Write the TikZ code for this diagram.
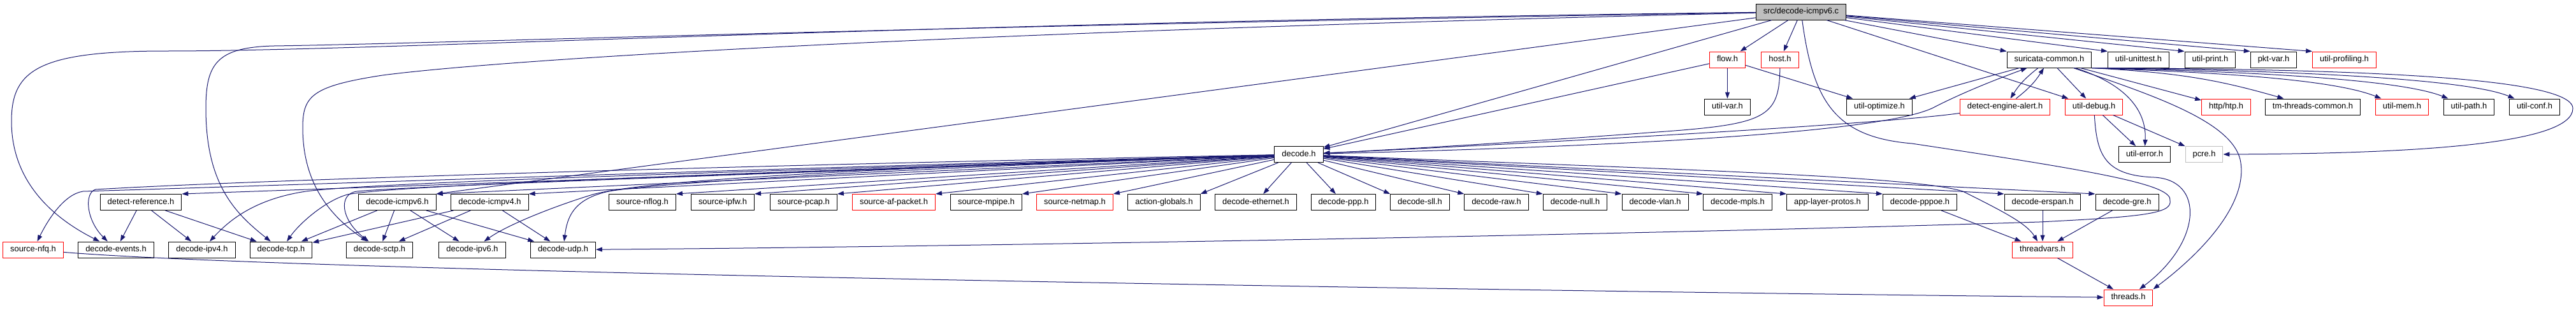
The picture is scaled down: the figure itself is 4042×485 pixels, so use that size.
\documentclass[tikz,border=0pt]{standalone}
\usepackage{fontspec}
\setmainfont{Liberation Sans}
\usetikzlibrary{
		arrows.meta
	}
\definecolor{edgeblue}{HTML}{191970}
\definecolor{srcgray}{HTML}{BFBFBF}
\tikzset{
		>={Triangle[length=10pt,width=7pt]}
	}
\tikzset{
		file/.style={draw=black, fill=white, line width=1pt, inner xsep=11.5pt, inner ysep=0pt, minimum height=25pt, text height=9.3pt, text depth=2.6pt, font=\fontsize{12.9}{15}\selectfont},
		dep/.style={->, draw=edgeblue, fill=none, line width=1pt}
	}

\begin{document}
\begin{tikzpicture}[x=1pt, y=-1pt]
            \fill[white] (0,0) rectangle (4042,485);
            \useasboundingbox (0,0) rectangle (4042,485);

            \node[file, fill=srcgray] (src) at (2826,18.5) {src/decode-icmpv6.c};
            \foreach \n/\x/\c/\t in {flow/2710.5/red/flow.h, host/2793/red/host.h, common/3215.5/black/suricata-common.h, unittest/3355.5/black/util-unittest.h, print/3468/black/util-print.h, pktvar/3567.5/black/pkt-var.h, profiling/3678.5/red/util-profiling.h}
            \node[file, draw=\c] (\n) at (\x,93.5) {\t};
            \foreach \n/\x/\c/\t in {utilvar/2710.5/black/util-var.h, optimize/2949/black/util-optimize.h, alert/3146/red/detect-engine-alert.h, debug/3285.5/red/util-debug.h, tmthreads/3629/black/tm-threads-common.h, mem/3769/red/util-mem.h, utilpath/3874/black/util-path.h, utilconf/3977/black/util-conf.h}
            \node[file, draw=\c] (\n) at (\x,167.5) {\t};
            \node[file, draw=red] (htp) at (3493,167.5) {http/htp.h};
            \node[file] (decode) at (2038,242) {decode.h};
            \node[file] (error) at (3365,242) {util-error.h};
            \node[file, draw=srcgray] (pcre) at (3458.5,242) {pcre.h};
            \foreach \n/\x/\c/\t in {detectref/221/black/detect-reference.h, dicmpv6/623.5/black/decode-icmpv6.h, dicmpv4/768.5/black/decode-icmpv4.h, nflog/1008/black/source-nflog.h, ipfw/1134/black/source-ipfw.h, pcap/1261/black/source-pcap.h, afpacket/1402.5/red/source-af-packet.h, mpipe/1547.5/black/source-mpipe.h, netmap/1686.5/red/source-netmap.h, actglob/1826.5/black/action-globals.h, deth/1970.5/black/decode-ethernet.h, dppp/2108/black/decode-ppp.h, dsll/2228/black/decode-sll.h, decraw/2348/black/decode-raw.h, decnull/2471.5/black/decode-null.h, dvlan/2597/black/decode-vlan.h, dmpls/2726.5/black/decode-mpls.h, applayer/2867.5/black/app-layer-protos.h, dpppoe/3012.5/black/decode-pppoe.h, derspan/3205/black/decode-erspan.h, dgre/3337.5/black/decode-gre.h}
            \node[file, draw=\c] (\n) at (\x,317) {\t};
            \foreach \n/\x/\c/\t in {nfq/52/red/source-nfq.h, dev/182/black/decode-events.h, dipv4/317/black/decode-ipv4.h, dtcp/441/black/decode-tcp.h, dsctp/595.5/black/decode-sctp.h, dipv6/741/black/decode-ipv6.h, dudp/883.5/black/decode-udp.h, threadvars/3205/red/threadvars.h}
            \node[file, draw=\c] (\n) at (\x,391.5) {\t};
            \node[file, draw=red] (threads) at (3339.5,466.5) {threads.h};

            \draw (src) -- (flow) [dep];
            \draw (src) -- (host) [dep];
            \draw (src) -- (decode) [dep];
            \draw (src) -- (debug) [dep];
            \foreach \t in {common,unittest,print,pktvar,profiling}
            \draw (src) -- (\t.north west) [dep];
            \draw (src) -- (dicmpv6.north east) [dep];
            \draw (src) .. controls (1400,36) and (600,80) .. (260,80) .. controls (60,80) and (18,110) .. (18,190) .. controls (18,290) and (90,345) .. (dev) [dep];
            \draw (src) .. controls (1400,42) and (700,68) .. (430,72) .. controls (340,74) and (323,100) .. (323,170) .. controls (323,290) and (370,335) .. (dtcp) [dep];
            \draw (src) .. controls (1500,50) and (800,92) .. (600,118) .. controls (490,135) and (475,150) .. (475,200) .. controls (475,290) and (520,340) .. (dsctp) [dep];
            \draw (src) .. controls (2845,160) and (2880,215) .. (3000,225) .. controls (3300,270) and (3410,290) .. (3405,315) .. controls (3408,335) and (3360,340) .. (3200,348) .. controls (2500,370) and (1400,388) .. (dudp) [dep];

            \draw (flow) -- (utilvar) [dep];
            \draw (flow) -- (optimize) [dep];
            \draw (flow) -- (decode) [dep];
            \draw (host) .. controls (2792,185) and (2770,195) .. (2600,207) .. controls (2400,222) and (2200,234) .. (decode) [dep];

            \draw (common) -- (optimize) [dep];
            \draw (common) to[bend right=10] (alert) [dep];
            \draw (alert) to[bend right=10] (common) [dep];
            \draw (common) -- (debug) [dep];
            \draw (common) -- (htp) [dep];
            \draw (common) .. controls (3345,135) and (3368,180) .. (error) [dep];
            \draw (common.south east) .. controls (3420,114) and (3480,125) .. (tmthreads) [dep];
            \draw (common.south east) .. controls (3420,112) and (3650,120) .. (mem) [dep];
            \draw (common.south east) .. controls (3420,110) and (3750,118) .. (utilpath) [dep];
            \draw (common.south east) .. controls (3420,108) and (3850,115) .. (utilconf) [dep];
            \draw (common.south east) .. controls (3600,108) and (4037,115) .. (4037,170) .. controls (4037,225) and (3800,241) .. (pcre) [dep];
            \draw (common) .. controls (3380,150) and (3500,190) .. (3515,250) .. controls (3530,320) and (3450,400) .. (threads.north east) [dep];

            \draw (alert) .. controls (2950,195) and (2400,225) .. (decode) [dep];
            \draw (debug) -- (error) [dep];
            \draw (debug) -- (pcre) [dep];
            \draw (debug) .. controls (3290,240) and (3300,275) .. (3380,278) .. controls (3460,282) and (3455,380) .. (threads) [dep];

            \draw (decode) .. controls (2600,228) and (2970,205) .. (3037,167) .. controls (3090,140) and (3150,118) .. (common) [dep];
            \foreach \t in {detectref,dicmpv6,dicmpv4,nflog,ipfw,pcap,afpacket,mpipe,netmap,actglob}
            \draw (decode) -- (\t.north east) [dep];
            \draw (decode) -- (deth) [dep];
            \draw (decode) -- (dppp) [dep];
            \foreach \t in {dsll,decraw,decnull,dvlan,dmpls,applayer,dpppoe,derspan,dgre}
            \draw (decode) -- (\t.north west) [dep];
            \draw (decode) .. controls (1200,264) and (400,292) .. (130,300) .. controls (100,305) and (75,345) .. (nfq) [dep];
            \draw (decode) .. controls (1200,258) and (400,282) .. (150,297) .. controls (132,302) and (135,345) .. (dev) [dep];
            \draw (decode) .. controls (1200,268) and (600,285) .. (480,300) .. controls (400,312) and (360,345) .. (dipv4) [dep];
            \draw (decode) .. controls (1200,270) and (620,290) .. (545,305) .. controls (510,315) and (470,350) .. (dtcp) [dep];
            \draw (decode) .. controls (1200,272) and (640,292) .. (560,300) .. controls (530,304) and (535,345) .. (dsctp) [dep];
            \draw (decode) .. controls (1300,265) and (1000,285) .. (930,305) .. controls (880,320) and (800,350) .. (dipv6) [dep];
            \draw (decode) .. controls (1300,268) and (1010,290) .. (955,300) .. controls (900,312) and (890,340) .. (dudp) [dep];
            \draw (decode) .. controls (2600,265) and (3000,275) .. (3080,300) .. controls (3140,330) and (3180,350) .. (threadvars) [dep];

            \foreach \t in {dev,dipv4,dtcp}
            \draw (detectref) -- (\t) [dep];
            \foreach \t in {dtcp,dsctp,dipv6,dudp}
            \draw (dicmpv6) -- (\t) [dep];
            \foreach \t in {dtcp,dsctp,dudp}
            \draw (dicmpv4) -- (\t) [dep];
            \foreach \t in {dpppoe,derspan,dgre}
            \draw (\t) -- (threadvars) [dep];
            \draw (threadvars) -- (threads) [dep];
            \draw (nfq) .. controls (500,428) and (2500,458) .. (threads) [dep];

        \end{tikzpicture}
\end{document}
